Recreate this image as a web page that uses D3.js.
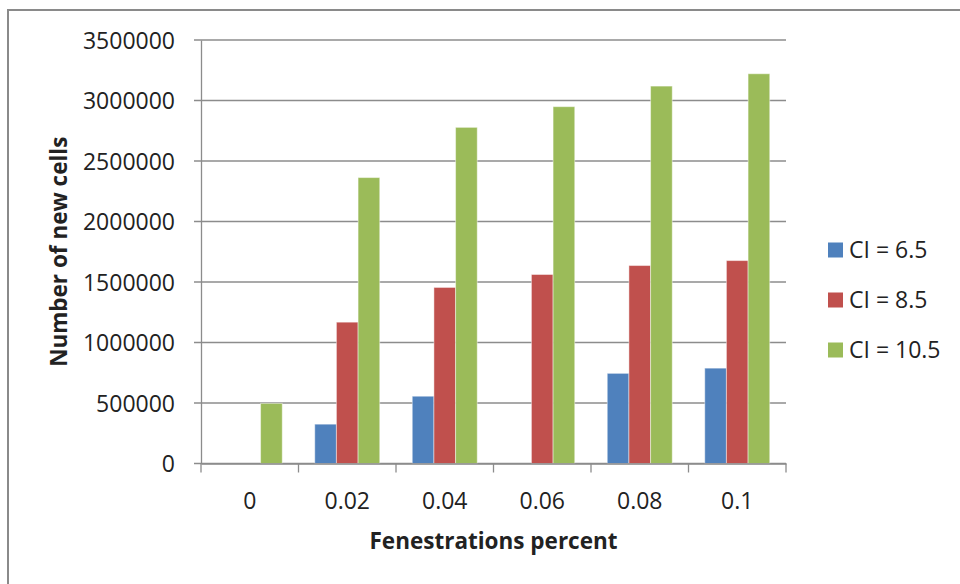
<!DOCTYPE html>
<html><head><meta charset="utf-8">
<script src="https://cdn.jsdelivr.net/npm/d3@7"></script>
<style>
html,body{margin:0;padding:0;background:#fff;}
svg text{font-family:"Open Sans",Calibri,sans-serif;fill:#222;}
</style></head>
<body><svg id="c" width="960" height="584"></svg>
<script>
const categories = ["0","0.02","0.04","0.06","0.08","0.1"];
const seriesNames = ["CI = 6.5","CI = 8.5","CI = 10.5"];
const ci65 = [0, 325000, 556000, 0, 745000, 788000];
const ci85 = [0, 1168000, 1455000, 1562000, 1636000, 1677000];
const ci105 = [497000, 2363000, 2778000, 2949000, 3119000, 3221000];
const yTicks = [0,500000,1000000,1500000,2000000,2500000,3000000,3500000];
const colors = ["#4F81BD","#C0504D","#9BBB59"];
const seriesValues = [ci65, ci85, ci105];

const svg = d3.select("#c");
svg.append("rect").attr("x",8).attr("y",10).attr("width",980).attr("height",600)
  .attr("fill","#fff").attr("stroke","#8a8a8a").attr("stroke-width",2);

const L=201, R=786, T=40, B=463.5;
const x = d3.scaleBand().domain(categories).range([L,R]).paddingInner(0).paddingOuter(0);
const inner = d3.scaleBand().domain(seriesNames).range([0,x.bandwidth()]).paddingInner(0).paddingOuter(0.75);
const y = d3.scaleLinear().domain([0,3500000]).range([B,T]);

// gridlines
svg.append("g").selectAll("line").data(yTicks).join("line")
  .attr("x1",L-7).attr("x2",R).attr("y1",d=>y(d)).attr("y2",d=>y(d))
  .attr("stroke","#8c8c8c").attr("stroke-width",1.3);

// y axis
const ya = svg.append("g").attr("transform",`translate(${L},0)`)
  .call(d3.axisLeft(y).tickValues(yTicks).tickFormat(d3.format("d")).tickSize(0).tickPadding(26));
ya.select(".domain").attr("stroke","#8c8c8c").attr("stroke-width",1.3);
ya.selectAll("text").attr("font-size",23).attr("dy","0.36em").style("font-family","'Open Sans',sans-serif").attr("fill","#222");

// bars
const g = svg.append("g");
categories.forEach((c,i)=>{
  seriesNames.forEach((s,j)=>{
    const v = seriesValues[j][i];
    if(v<=0) return;
    g.append("rect").attr("x",x(c)+inner(s)).attr("y",y(v))
      .attr("width",inner.bandwidth()).attr("height",B-y(v))
      .attr("fill",colors[j]).attr("stroke","rgba(255,255,255,0.45)").attr("stroke-width",1);
  });
});

// x axis
const xa = svg.append("g").attr("transform",`translate(0,${B})`)
  .call(d3.axisBottom(x).tickSize(0).tickPadding(29));
xa.select(".domain").attr("stroke","#8c8c8c").attr("stroke-width",1.3);
xa.selectAll("text").attr("font-size",23).style("font-family","'Open Sans',sans-serif").attr("fill","#222");
const bounds = categories.map(c=>x(c)).concat([R]);
svg.append("g").selectAll("line").data(bounds).join("line")
  .attr("x1",d=>d).attr("x2",d=>d).attr("y1",B).attr("y2",B+9)
  .attr("stroke","#8c8c8c").attr("stroke-width",1.3);

// axis titles
svg.append("text").attr("x",(L+R)/2).attr("y",549).attr("text-anchor","middle")
  .attr("font-size",22.5).attr("font-weight","bold").text("Fenestrations percent");
svg.append("text").attr("transform",`translate(67,${(T+B)/2}) rotate(-90)`).attr("text-anchor","middle")
  .attr("font-size",22.5).attr("font-weight","bold").text("Number of new cells");

// legend
const lg = svg.append("g");
seriesNames.forEach((s,j)=>{
  const cy = 250 + j*50;
  lg.append("rect").attr("x",828).attr("y",cy-7.5).attr("width",15).attr("height",15).attr("fill",colors[j]);
  lg.append("text").attr("x",849).attr("y",cy).attr("dy","0.36em").attr("font-size",23).text(s);
});
</script></body></html>
